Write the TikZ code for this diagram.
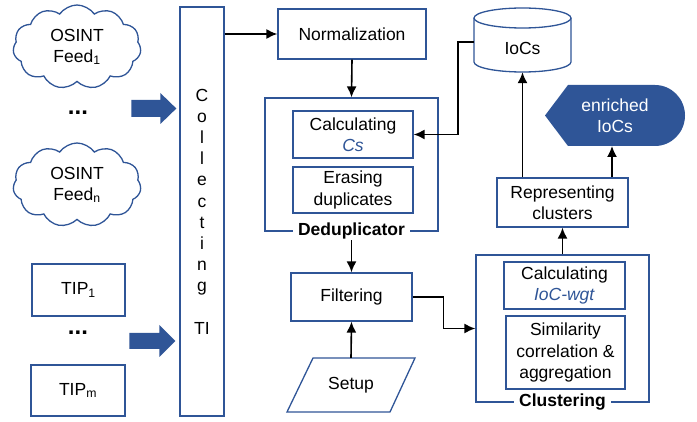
\documentclass[tikz,border=0pt]{standalone}
\usepackage{fontspec}
\setmainfont{Liberation Sans}
\usetikzlibrary{shapes.symbols,arrows.meta,calc}
\definecolor{bblue}{RGB}{47,85,151}
\begin{document}
\begin{tikzpicture}[x=1pt,y=-1pt,
 every node/.style={font=\fontsize{17.5}{21.5}\selectfont, align=center, inner sep=0pt},
 box/.style={draw=bblue, line width=1.3pt, fill=white},
 arr/.style={line width=1.6pt, -{Latex[length=11pt,width=10pt]}},
 blab/.style={fill=white, font=\fontsize{17.5}{21}\selectfont\bfseries, inner xsep=5pt, inner ysep=1pt},
 cloudbox/.style={cloud, draw=bblue, line width=1.3pt, cloud puffs=11, cloud puff arc=110, aspect=1.6, minimum width=128pt, minimum height=84pt, font=\fontsize{17.5}{21}\selectfont},
 dots/.style={font=\fontsize{24}{24}\selectfont\bfseries},
 barrow/.style={fill=bblue}]
\useasboundingbox (0,0) rectangle (697,422);

% sources
\node[cloudbox] (c1) at (77,47) {OSINT\\Feed\textsubscript{1}};
\node[cloudbox] (cn) at (77,185) {OSINT\\Feed\textsubscript{n}};
\node[dots] (d1) at (78,113) {...};
\node[box, minimum width=93pt, minimum height=52pt] (tip1) at (78.5,290) {TIP\textsubscript{1}};
\node[dots] (d2) at (78,333) {...};
\node[box, minimum width=94pt, minimum height=51pt] (tipm) at (78,390.5) {TIP\textsubscript{m}};

% collecting
\node[box, minimum width=44pt, minimum height=409pt, font=\fontsize{17.5}{21.2}\selectfont] (col) at (202,211.5)
  {C\\o\\l\\l\\e\\c\\t\\i\\n\\g\\[21.2pt]TI};

% block arrows
\fill[barrow] ($(col.west)+(-48,-111.5)$) coordinate (a1) -- ++(29,0) -- ++(0,-7) -- ($(col.west |- 0,108.5)+(-3,0)$) -- ($(a1)+(29,24)$) -- ++(0,-7) -- ++(-29,0) -- cycle;
\fill[barrow] ($(col.west)+(-50,121.5)$) coordinate (a2) -- ++(30,0) -- ++(0,-8) -- ($(col.west |- 0,341)+(-4,0)$) -- ($(a2)+(30,24)$) -- ++(0,-8) -- ++(-30,0) -- cycle;

% normalization
\node[box, minimum width=148pt, minimum height=50pt] (norm) at (352,34) {Normalization};
\draw[arr] (col.east |- norm.west) -- (norm.west);

% deduplicator
\node[box, minimum width=173pt, minimum height=133pt] (dedup) at (351.5,164.5) {};
\node[box, minimum width=120pt, minimum height=47pt] (calc) at (353,134.5) {Calculating\\\textcolor{bblue}{\textit{Cs}}};
\node[box, minimum width=120pt, minimum height=46pt] (erase) at (353,190) {Erasing\\duplicates};
\node[blab] (dlab) at (351.5,231) {Deduplicator};
\draw[arr] (norm.south) -- (dedup.north);

% filtering
\node[box, minimum width=121pt, minimum height=48pt] (filt) at (351.5,297) {Filtering};
\draw[arr] (dlab.south) -- (filt.north);

% setup
\draw[draw=bblue, line width=1.3pt] (287,412) -- (313,358) -- (415,358) -- (390,412) -- cycle;
\node[minimum width=100pt, minimum height=54pt] (setup) at (351,385) {Setup};
\draw[arr] (setup.north) -- (filt.south);

% clustering
\node[box, minimum width=173pt, minimum height=147pt] (clus) at (562.5,328.5) {};
\node[box, minimum width=121pt, minimum height=47pt] (calcw) at (564.5,285.5) {Calculating\\\textcolor{bblue}{\textit{IoC-wgt}}};
\node[box, minimum width=119pt, minimum height=73pt] (sim) at (565.5,352.5) {Similarity\\correlation \&\\aggregation};
\node[blab] (clab) at (562.5,402) {Clustering};
\draw[arr] (filt.east) -- ++(31,0) |- (clus.west);

% representing
\node[box, minimum width=131pt, minimum height=49pt] (rep) at (562.5,202.5) {Representing\\clusters};
\draw[arr] (clus.north) -- (rep.south);

% IoCs cylinder
\draw[draw=bblue, line width=1.3pt, fill=white] (474,18) -- (474,62) arc[start angle=180, end angle=0, x radius=48.5, y radius=10] -- (571,18);
\draw[draw=bblue, line width=1.3pt] (522.5,18) ellipse[x radius=48.5, y radius=10];
\node[minimum width=97pt, minimum height=48pt] (ioc) at (522.5,48) {IoCs};
\draw[arr] (rep.north -| ioc.south) -- (ioc.south);
\draw[arr] ([yshift=6pt]ioc.west) -- ++(-16,0) |- (calc.east);

% enriched IoCs
\fill[bblue] (545,115.5) -- (568,85) -- (655,85) arc[start angle=-90, end angle=90, x radius=30, y radius=30.5] -- (568,146) -- cycle;
\node[text=white, minimum width=140pt, minimum height=61pt] (enr) at (615,115.5) {enriched\\IoCs};
\draw[arr] (rep.north -| 612,0) -- (612,146);
\end{tikzpicture}
\end{document}
